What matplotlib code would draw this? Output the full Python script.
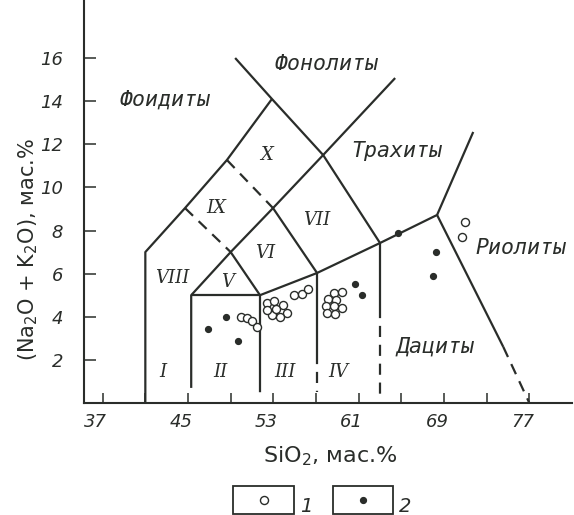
import matplotlib
matplotlib.use("Agg")
import matplotlib.pyplot as plt
from matplotlib.patches import Rectangle
from matplotlib.lines import Line2D
from matplotlib.transforms import ScaledTranslation

INK = "#2a2d2a"

# ---- axis ticks ----
x_major = [37, 45, 53, 61, 69, 77]
x_minor = [41, 49, 57, 65, 73]
y_ticks = [2, 4, 6, 8, 10, 12, 14, 16]

# ---- field boundaries (SiO2, Na2O+K2O) ----
foidite_si = [41.0, 41.0, 44.72, 48.65, 52.87]
foidite_alk = [0.0, 7.0, 9.04, 11.27, 14.1]

phonolite_si = [49.42, 52.87, 57.67, 63.0]
phonolite_alk = [16.0, 14.1, 11.5, 7.42]

trachyte_si = [49.0, 52.97, 57.67, 64.42]
trachyte_alk = [7.0, 9.04, 11.5, 15.07]

dash_upper_si = [48.65, 52.97]
dash_upper_alk = [11.27, 9.04]
dash_lower_si = [44.72, 49.0]
dash_lower_alk = [9.04, 7.0]

basalt_si = [45.3, 45.3, 49.0, 51.75, 51.75]
basalt_alk = [0.7, 5.0, 7.0, 5.0, 0.5]
basalt_top_si = [45.3, 51.75]
basalt_top_alk = [5.0, 5.0]

inner_si = [52.97, 57.1]
inner_alk = [9.04, 6.03]

andesite_top_si = [51.75, 57.1, 63.0, 68.35, 71.74]
andesite_top_alk = [5.0, 6.03, 7.42, 8.72, 12.57]

v57_solid_alk = [6.03, 2.3]
v57_dash_alk = [2.3, 0.5]
v57_si = 57.1
v63_solid_alk = [7.42, 4.45]
v63_dash_alk = [4.45, 0.3]
v63_si = 63.0

rhy_solid_si = [68.35, 74.56]
rhy_solid_alk = [8.72, 2.6]
rhy_dash_si = [74.56, 77.0]
rhy_dash_alk = [2.6, 0.0]

# ---- samples ----
open_si = [49.94, 50.50, 51.03, 51.44,
           52.38, 53.09, 53.93, 54.25, 53.62, 52.85, 52.38, 53.25,
           54.97, 55.66, 56.28,
           58.69, 59.44, 58.12, 58.87, 57.94, 58.69, 59.44, 58.03, 58.78,
           70.97, 70.66]
open_alk = [3.97, 3.93, 3.82, 3.51,
            4.62, 4.74, 4.55, 4.19, 4.00, 4.08, 4.31, 4.35,
            5.01, 5.06, 5.27,
            5.10, 5.15, 4.82, 4.78, 4.50, 4.50, 4.41, 4.17, 4.13,
            8.41, 7.71]
filled_si = [48.53, 46.90, 49.71, 60.66, 61.34, 64.72, 68.25, 68.0]
filled_alk = [4.00, 3.42, 2.89, 5.52, 5.01, 7.87, 6.99, 5.90]

# ---- labels ----
rock_names = ["Фоидиты", "Фонолиты", "Трахиты", "Риолиты", "Дациты"]
rock_pos = [(42.84, 14.05), (58.0, 15.72), (64.6, 11.69), (76.22, 7.19), (68.16, 2.60)]
field_names = ["I", "II", "III", "IV", "V", "VI", "VII", "VIII", "IX", "X"]
field_pos = [(42.68, 1.45), (48.0, 1.45), (54.09, 1.45), (59.09, 1.45),
             (48.70, 5.59), (52.22, 6.96), (57.07, 8.49), (43.54, 5.82),
             (47.69, 9.03), (52.38, 11.50)]

W, H = 574, 515
fig = plt.figure(figsize=(W / 100, H / 100), dpi=100)
fig.patch.set_facecolor("white")
ax = fig.add_axes([84 / W, 112 / H, (572 - 84) / W, 403 / H])
ax.set_xlim(35.25, 81.0)
ax.set_ylim(0, 18.69)

for side in ("top", "right"):
    ax.spines[side].set_visible(False)
for side in ("left", "bottom"):
    ax.spines[side].set_color(INK)
    ax.spines[side].set_linewidth(1.5)

lw = 1.6
solid = dict(color=INK, lw=lw, solid_joinstyle="round", solid_capstyle="butt")
dashed = dict(color=INK, lw=lw, linestyle=(0, (5, 3.5)))

ax.plot(foidite_si, foidite_alk, **solid)
ax.plot(phonolite_si, phonolite_alk, **solid)
ax.plot(trachyte_si, trachyte_alk, **solid)
ax.plot(dash_upper_si, dash_upper_alk, **dashed)
ax.plot(dash_lower_si, dash_lower_alk, **dashed)
ax.plot(basalt_si, basalt_alk, **solid)
ax.plot(basalt_top_si, basalt_top_alk, **solid)
ax.plot(inner_si, inner_alk, **solid)
ax.plot(andesite_top_si, andesite_top_alk, **solid)
ax.plot([v57_si, v57_si], v57_solid_alk, **solid)
ax.plot([v57_si, v57_si], v57_dash_alk, **dashed)
ax.plot([v63_si, v63_si], v63_solid_alk, **solid)
ax.plot([v63_si, v63_si], v63_dash_alk, **dashed)
ax.plot(rhy_solid_si, rhy_solid_alk, **solid)
ax.plot(rhy_dash_si, rhy_dash_alk, **dashed)

ax.plot(open_si, open_alk, linestyle="none", marker="o", ms=5.8,
        mfc="white", mec=INK, mew=1.0, zorder=5)
ax.plot(filled_si, filled_alk, linestyle="none", marker="o", ms=4.2,
        mfc=INK, mec=INK, zorder=5)

# ticks
ax.set_xticks(x_major)
ax.set_xticklabels([str(v) for v in x_major])
ax.set_xticks(x_minor, minor=True)
ax.set_yticks(y_ticks)
ax.set_yticklabels([str(v) for v in y_ticks])
ax.tick_params(axis="x", which="both", direction="in", length=7, width=1.1,
               color=INK, pad=7)
ax.tick_params(axis="y", direction="in", length=8.5, width=1.1, color=INK, pad=15)
for lab in ax.get_xticklabels() + ax.get_yticklabels():
    lab.set_fontstyle("italic")
    lab.set_fontsize(13)
    lab.set_color(INK)
shift = ScaledTranslation(-7 / 100, 0, fig.dpi_scale_trans)
for lab in ax.get_xticklabels():
    lab.set_transform(lab.get_transform() + shift)

fig.text(330 / W, 1 - 456 / H, "SiO$_2$, мас.%", ha="center", va="center",
         fontsize=16, color=INK)
fig.text(28 / W, 1 - 250 / H, "(Na$_2$O + K$_2$O), мас.%", ha="center",
         va="center", rotation=90, fontsize=15, color=INK)

for name, (sx, sy) in zip(rock_names, rock_pos):
    ax.text(sx, sy, name, ha="center", va="center", fontsize=15.5,
            fontstyle="italic", family="DejaVu Sans Mono", color=INK)
for name, (sx, sy) in zip(field_names, field_pos):
    ax.text(sx, sy, name, ha="center", va="center", fontsize=13,
            fontstyle="italic", family="DejaVu Serif", color=INK)

# legend boxes
for (x0, x1), filled, tag in (((233, 294), False, "1"), ((333, 393), True, "2")):
    fig.add_artist(Rectangle((x0 / W, 1 - 514 / H), (x1 - x0) / W, 28 / H,
                             transform=fig.transFigure, fill=False,
                             ec=INK, lw=1.3))
    cx = (x0 + x1) / 2 / W
    cy = 1 - 500 / H
    if filled:
        fig.add_artist(Line2D([cx], [cy], transform=fig.transFigure, marker="o",
                              ms=4.2, mfc=INK, mec=INK, linestyle="none"))
    else:
        fig.add_artist(Line2D([cx], [cy], transform=fig.transFigure, marker="o",
                              ms=5.8, mfc="white", mec=INK, mew=1.0,
                              linestyle="none"))
    fig.text((x1 + 12) / W, 1 - 507 / H, tag, ha="center", va="center",
             fontsize=14, fontstyle="italic", color=INK)

fig.savefig("out.png", dpi=100, facecolor="white")
